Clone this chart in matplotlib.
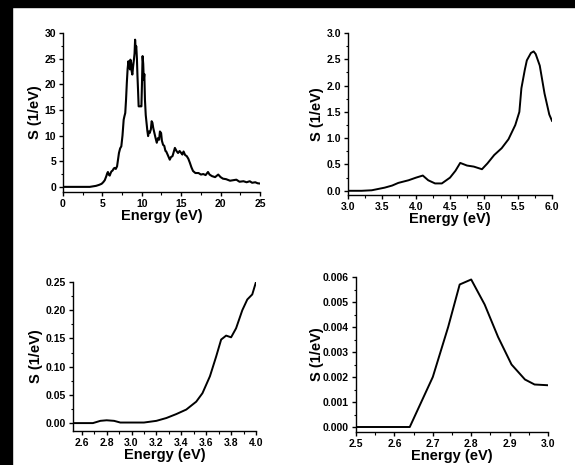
import numpy as np
import matplotlib
matplotlib.use("Agg")
import matplotlib.pyplot as plt
from matplotlib.patches import Rectangle
from matplotlib.ticker import MultipleLocator, FormatStrFormatter

plt.rcParams["font.family"] = ["Liberation Sans", "DejaVu Sans"]
plt.rcParams["font.weight"] = "bold"

# panel a: full spectrum 0-25 eV
e_full = [0, 1, 2, 3, 3.4, 3.8, 4.2, 4.6, 4.9, 5.1, 5.3, 5.5, 5.6, 5.7, 5.8, 5.93,
          6.05, 6.14, 6.3, 6.45, 6.57, 6.7, 6.86, 7.0, 7.1, 7.25, 7.4, 7.55, 7.7, 7.8,
          7.9, 8.0, 8.1, 8.2, 8.3, 8.4, 8.5, 8.55, 8.65, 8.72, 8.8, 8.9, 9.0, 9.08,
          9.15, 9.22, 9.3, 9.38, 9.45, 9.52, 9.6, 9.8, 9.95, 10.02, 10.1, 10.18, 10.25,
          10.32, 10.4, 10.5, 10.6, 10.7, 10.8, 10.9, 11.0, 11.15, 11.25, 11.35, 11.45,
          11.6, 11.75, 11.9, 12.05, 12.2, 12.3, 12.45, 12.55, 12.7, 12.85, 13.0, 13.1,
          13.3, 13.55, 13.7, 13.9, 14.05, 14.2, 14.4, 14.6, 14.8, 15.0, 15.15, 15.3,
          15.5, 15.7, 15.9, 16.1, 16.3, 16.5, 16.8, 17.2, 17.5, 17.8, 18.1, 18.4, 18.6,
          18.9, 19.3, 19.7, 20.0, 20.3, 20.7, 21.2, 21.6, 22.0, 22.4, 22.9, 23.3, 23.7,
          24.0, 24.4, 24.7, 25.0]
s_full = [0, 0, 0, 0, 0, 0.1, 0.2, 0.4, 0.6, 0.9, 1.3, 2.1, 2.6, 2.9, 2.4, 2.2,
          2.7, 3.0, 3.2, 3.6, 3.7, 3.5, 4.0, 5.5, 6.6, 7.5, 7.9, 10.0, 13.1, 13.8,
          14.4, 17.0, 20.3, 23.0, 24.5, 23.5, 22.9, 24.8, 24.2, 22.5, 21.9, 23.5, 24.8, 26.0,
          28.7, 27.0, 27.4, 25.0, 21.6, 19.0, 15.7, 15.7, 15.7, 20.0, 25.5, 24.0, 20.9,
          22.0, 17.0, 14.0, 12.5, 11.0, 9.9, 10.8, 10.5, 11.2, 12.8, 12.5, 11.5,
          10.5, 9.5, 8.6, 9.5, 9.2, 10.8, 10.5, 9.0, 8.2, 8.0, 7.0, 6.9,
          6.2, 5.3, 5.8, 6.0, 6.8, 7.6, 7.0, 6.6, 7.0, 6.6, 6.3, 6.9,
          6.2, 6.0, 5.5, 4.7, 3.8, 3.1, 2.7, 2.7, 2.4, 2.5, 2.3, 2.9, 2.4,
          2.1, 1.9, 2.4, 1.9, 1.6, 1.5, 1.2, 1.3, 1.4, 1.0, 1.1, 0.9, 1.1,
          0.8, 0.9, 0.7, 0.65]

# panel b: 3-6 eV
e_mid = [3.0, 3.2, 3.35, 3.54, 3.65, 3.74, 3.89, 4.0, 4.1, 4.18, 4.28, 4.38, 4.5,
         4.58, 4.65, 4.75, 4.85, 4.97, 5.05, 5.15, 5.26, 5.36, 5.46, 5.52, 5.55, 5.6,
         5.63, 5.69, 5.73, 5.76, 5.82, 5.89, 5.96, 6.0]
s_mid = [0.0, 0.0, 0.01, 0.06, 0.1, 0.15, 0.2, 0.25, 0.29, 0.2, 0.14, 0.14, 0.25,
         0.38, 0.53, 0.48, 0.46, 0.41, 0.52, 0.68, 0.81, 0.98, 1.25, 1.5, 1.95, 2.3,
         2.48, 2.62, 2.65, 2.6, 2.38, 1.85, 1.45, 1.33]

# panel c: 2.5-4 eV
e_low = [2.53, 2.6, 2.69, 2.75, 2.8, 2.86, 2.91, 3.0, 3.1, 3.2, 3.28, 3.36, 3.44,
         3.52, 3.57, 3.63, 3.68, 3.72, 3.76, 3.8, 3.84, 3.89, 3.93, 3.97, 4.0]
s_low = [0.0, 0.0, 0.0, 0.004, 0.005, 0.004, 0.001, 0.001, 0.001, 0.004, 0.009, 0.016, 0.024,
         0.038, 0.053, 0.083, 0.118, 0.148, 0.155, 0.152, 0.168, 0.2, 0.219, 0.228, 0.25]

# panel d: 2.5-3 eV
e_gap = [2.5, 2.6, 2.64, 2.67, 2.7, 2.74, 2.77, 2.8, 2.835, 2.87, 2.905, 2.94, 2.965, 3.0]
s_gap = [0.0, 0.0, 0.0, 0.001, 0.002, 0.004, 0.0057, 0.0059, 0.0049, 0.0036, 0.0025,
         0.0019, 0.0017, 0.00167]

W, H = 575, 465
fig = plt.figure(figsize=(W / 100, H / 100), dpi=100)
fig.patches.append(Rectangle((0, 1 - 7 / H), 1, 7 / H, transform=fig.transFigure,
                             color="black", zorder=0))
fig.patches.append(Rectangle((0, 0), 12 / W, 1, transform=fig.transFigure,
                             color="black", zorder=0))


def make_ax(left, right, top, bottom):
    return fig.add_axes([left / W, 1 - bottom / H, (right - left) / W, (bottom - top) / H])


def style(ax, xlim, ylim, xmaj, xmin, ymaj, ymin, xfmt, yfmt):
    ax.set_xlim(*xlim)
    ax.set_ylim(*ylim)
    for s in ["top", "right"]:
        ax.spines[s].set_visible(False)
    for s in ["left", "bottom"]:
        ax.spines[s].set_linewidth(1.0)
    ax.xaxis.set_major_locator(MultipleLocator(xmaj))
    ax.xaxis.set_minor_locator(MultipleLocator(xmin))
    ax.yaxis.set_major_locator(MultipleLocator(ymaj))
    ax.yaxis.set_minor_locator(MultipleLocator(ymin))
    ax.xaxis.set_major_formatter(FormatStrFormatter(xfmt))
    ax.yaxis.set_major_formatter(FormatStrFormatter(yfmt))
    ax.tick_params(which="major", direction="out", length=3, width=1, labelsize=7.5, pad=2)
    ax.tick_params(which="minor", direction="out", length=1.8, width=0.8)
    ax.set_xlabel("Energy (eV)", fontsize=10.5, fontweight="bold", labelpad=0)
    ax.set_ylabel("S (1/eV)", fontsize=10.5, fontweight="bold", labelpad=2)


ax1 = make_ax(63, 260, 33, 192)
ax1.plot(e_full, s_full, color="black", lw=1.5)
style(ax1, (0, 25), (-1, 30), 5, 2.5, 5, 2.5, "%d", "%d")

ax2 = make_ax(348, 552, 33, 195)
ax2.plot(e_mid, s_mid, color="black", lw=1.4)
style(ax2, (3.0, 6.0), (-0.08, 3.0), 0.5, 0.25, 0.5, 0.25, "%.1f", "%.1f")

ax3 = make_ax(73, 256, 282, 431)
ax3.plot(e_low, s_low, color="black", lw=1.4)
style(ax3, (2.53, 4.0), (-0.014, 0.25), 0.2, 0.1, 0.05, 0.025, "%.1f", "%.2f")

ax4 = make_ax(356, 548, 277, 432)
ax4.plot(e_gap, s_gap, color="black", lw=1.4)
style(ax4, (2.5, 3.0), (-0.0002, 0.006), 0.1, 0.05, 0.001, 0.0005, "%.1f", "%.3f")
ax4.yaxis.labelpad = -1

fig.savefig("out.png", dpi=100, facecolor="white")
